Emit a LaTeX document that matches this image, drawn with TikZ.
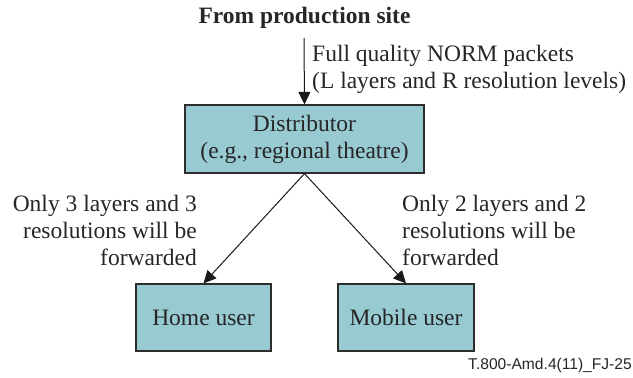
\documentclass[tikz,border=0pt]{standalone}
\usepackage{fontspec}
\setmainfont{Liberation Serif}
\setsansfont{Liberation Sans}
\usetikzlibrary{
    arrows.meta,
    positioning
}
\definecolor{boxteal}{RGB}{152,202,210}
\definecolor{boxline}{RGB}{45,45,45}

\begin{document}
\begin{tikzpicture}[
    x=1pt,
    y=-1pt,
    every node/.style={
        font=\fontsize{23.5pt}{27pt}\selectfont,
        text=black!85
    },
    unitbox/.style={
        draw=boxline,
        line width=1.2pt,
        fill=boxteal,
        align=center,
        inner sep=0pt
    },
    flow/.style={
        -{Triangle[length=12.5pt, width=12pt]},
        line width=1pt,
        black!90
    }
]

    \useasboundingbox (0,0) rectangle (633,378);

    % -------------------------------------------------------
    % Source
    % -------------------------------------------------------
    \node[
        font=\fontsize{23.5pt}{27pt}\selectfont\bfseries
    ] (source) at (304.5,18)
        {From production site};

    \coordinate (feed) at (304,38);

    % -------------------------------------------------------
    % Boxes
    % -------------------------------------------------------
    \node[
        unitbox,
        minimum width=239pt,
        minimum height=68pt
    ] (distributor) at (304.5,139)
        {Distributor\\(e.g., regional theatre)};

    \node[
        unitbox,
        minimum width=135pt,
        minimum height=67pt
    ] (home) at (203.5,317.5)
        {Home user};

    \node[
        unitbox,
        minimum width=136pt,
        minimum height=67pt
    ] (mobile) at (406,317.5)
        {Mobile user};

    % -------------------------------------------------------
    % Connectors
    % -------------------------------------------------------
    \draw[flow] (feed) -- (distributor.north);
    \draw[flow] (distributor.south) -- (home.north);
    \draw[flow] (distributor.south) -- (mobile.north);

    % -------------------------------------------------------
    % Labels
    % -------------------------------------------------------
    \node[
        anchor=west,
        align=left,
        inner sep=0pt
    ] (fulllabel) at (312,69.5)
        {Full quality NORM packets\\(L layers and R resolution levels)};

    \node[
        anchor=east,
        align=right,
        inner sep=0pt
    ] (homelabel) at (197,230)
        {Only 3 layers and 3\\resolutions will be\\forwarded};

    \node[
        anchor=west,
        align=left,
        inner sep=0pt
    ] (mobilelabel) at (402,230)
        {Only 2 layers and 2\\resolutions will be\\forwarded};

    \node[
        anchor=east,
        inner sep=0pt,
        font=\sffamily\fontsize{15.6pt}{18pt}\selectfont
    ] (figid) at (632,365)
        {T.800-Amd.4(11)\_FJ-25};

\end{tikzpicture}
\end{document}
